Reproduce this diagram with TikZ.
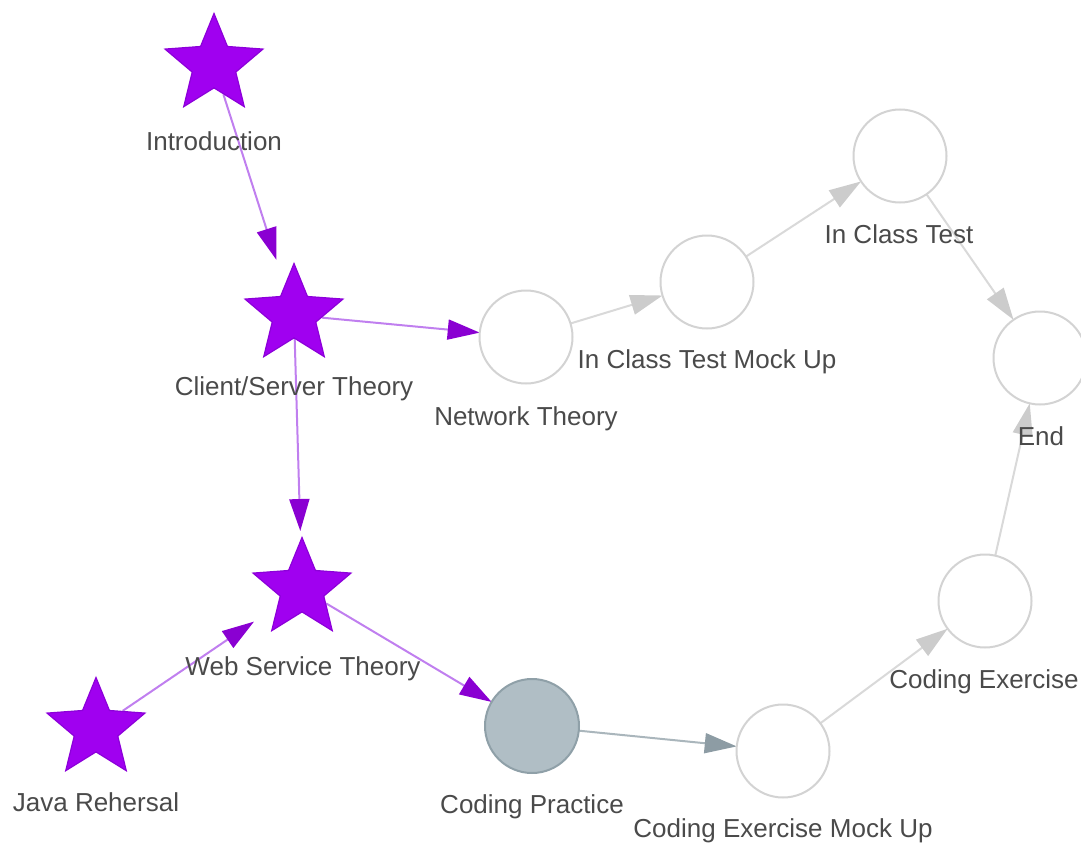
\documentclass[tikz,border=0pt]{standalone}
\usepackage{fontspec}
\setmainfont{Liberation Sans}
\usetikzlibrary{shapes.geometric,arrows.meta,backgrounds}
\definecolor{starfill}{HTML}{A000F0}
\definecolor{stardraw}{HTML}{8C00D9}
\definecolor{pline}{HTML}{C07FEF}
\definecolor{parrow}{HTML}{8A00D2}
\definecolor{gdraw}{HTML}{D3D3D3}
\definecolor{gline}{HTML}{D9D9D9}
\definecolor{garrow}{HTML}{CCCCCC}
\definecolor{cpfill}{HTML}{B0BEC5}
\definecolor{cpdraw}{HTML}{8FA0A8}
\definecolor{bline}{HTML}{AAB6BC}
\definecolor{barrow}{HTML}{8D9CA4}
\definecolor{txt}{HTML}{4A4A4A}
\tikzset{
  starnode/.style={star, star points=5, star point ratio=2.25, minimum size=103pt, inner sep=0pt, fill=starfill, draw=stardraw, line width=1.2pt},
  hitc/.style={circle, minimum size=116pt, inner sep=0pt, outer sep=0pt},
  gcirc/.style={circle, minimum size=93pt, inner sep=0pt, outer sep=0pt, draw=gdraw, line width=2pt, fill=white},
  cpcirc/.style={circle, minimum size=94pt, inner sep=0pt, outer sep=0pt, draw=cpdraw, line width=2pt, fill=cpfill},
  lbl/.style={anchor=base, text=txt, font=\fontsize{26}{30}\selectfont, inner sep=0pt},
  pedge/.style={draw=pline, line width=2pt, -{Triangle[length=32pt,width=20pt,color=parrow]}},
  gedge/.style={draw=gline, line width=2pt, -{Triangle[length=32pt,width=20pt,color=garrow]}},
  bedge/.style={draw=bline, line width=2pt, -{Triangle[length=32pt,width=20pt,color=barrow]}}
}
\begin{document}
\begin{tikzpicture}[x=1pt,y=-1pt]
\useasboundingbox (0,0) rectangle (1081,843);
% stars
\node[starnode] (intro) at (214,65) {};
\node[starnode] (cs) at (294,315) {};
\node[starnode] (ws) at (302,589) {};
\node[starnode] (java) at (96,729) {};
\node[hitc] (csB) at (294,315) {};
\node[hitc] (wsB) at (302,589) {};
% circles
\node[gcirc] (net) at (526,337) {};
\node[gcirc] (ictmu) at (707,282) {};
\node[gcirc] (ict) at (900,156) {};
\node[gcirc] (end) at (1040,358) {};
\node[gcirc] (ce) at (985,601) {};
\node[gcirc] (cemu) at (783,751) {};
\node[cpcirc] (cp) at (532,726) {};
% labels
\node[lbl] (introL) at (214,150) {Introduction};
\node[lbl] (csL) at (294,395) {Client/Server Theory};
\node[lbl] (wsL) at (303,675) {Web Service Theory};
\node[lbl] (javaL) at (96,811) {Java Rehersal};
\node[lbl] (netL) at (526,425) {Network Theory};
\node[lbl] (ictmuL) at (707,368) {In Class Test Mock Up};
\node[lbl] (ictL) at (899,243) {In Class Test};
\node[lbl] (endL) at (1041,445) {End};
\node[lbl] (ceL) at (984,688) {Coding Exercise};
\node[lbl] (cemuL) at (783,837) {Coding Exercise Mock Up};
\node[lbl] (cpL) at (532,813) {Coding Practice};
% edges
\begin{scope}[on background layer]
\draw[pedge] (intro) -- (csB);
\draw[pedge] (cs) -- (net);
\draw[pedge] (cs) -- (wsB);
\draw[pedge] (ws) -- (cp);
\draw[pedge] (java) -- (wsB);
\draw[bedge] (cp) -- (cemu);
\draw[gedge] (net) -- (ictmu);
\draw[gedge] (ictmu) -- (ict);
\draw[gedge] (ict) -- (end);
\draw[gedge] (cemu) -- (ce);
\draw[gedge] (ce) -- (end);
\end{scope}
\end{tikzpicture}
\end{document}
